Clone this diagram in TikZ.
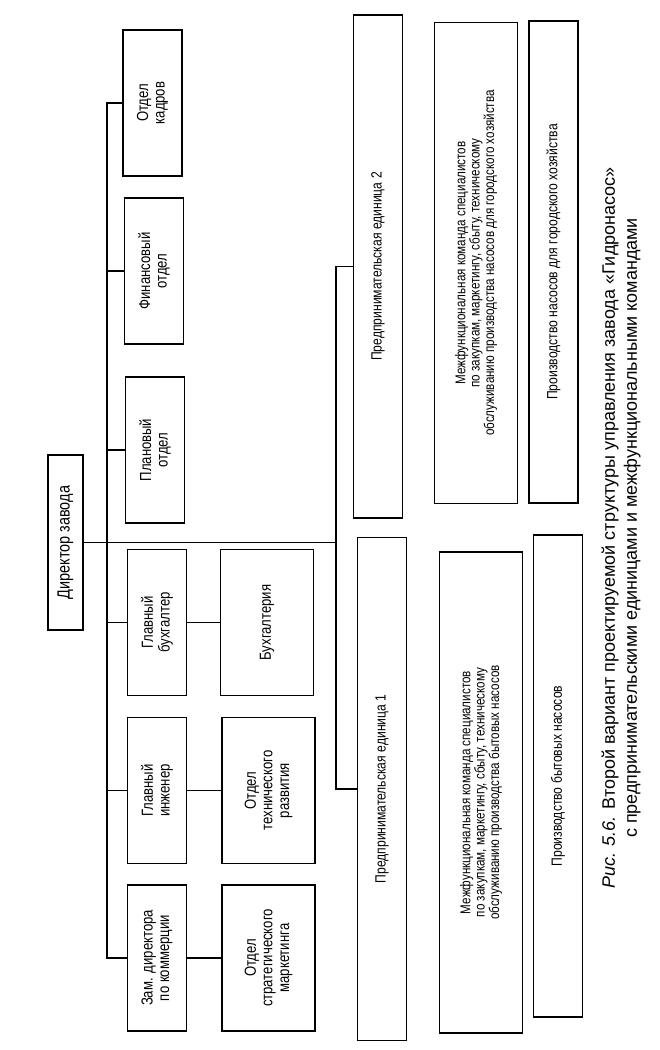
\documentclass[tikz,border=0pt]{standalone}
\usepackage{fontspec}
\setmainfont{Liberation Sans}
\newfontfamily\narrowfont[FakeStretch=0.82]{Liberation Sans}
\begin{document}
\begin{tikzpicture}[x=0.5pt,y=-0.5pt,
  box/.style={draw, line width=0.8pt, rotate=90, inner sep=1pt, align=center,
    font=\narrowfont\fontsize{8}{8.3}\selectfont},
  colA/.style={box, minimum width=73pt, minimum height=29.5pt},
  colB/.style={box, minimum width=73pt, minimum height=46.5pt},
  unitbox/.style={box, minimum width=251.5pt, minimum height=24.5pt,
    font=\narrowfont\fontsize{7.4}{8}\selectfont},
  teambox/.style={box, minimum width=240.5pt, minimum height=41.5pt,
    font=\narrowfont\fontsize{7.1}{7.2}\selectfont},
  prodbox/.style={box, minimum width=241pt, minimum height=24.5pt,
    font=\narrowfont\fontsize{7.4}{8}\selectfont},
  link/.style={line width=0.7pt}]
\useasboundingbox (0,0) rectangle (659,1050);
% director
\node[box, minimum width=87.5pt, minimum height=17.5pt,
  font=\narrowfont\fontsize{8.8}{9}\selectfont] (dir) at (65.5,542.5) {Директор завода};
% first column
\node[colA] (zam)  at (157,958)   {Зам. директора\\по коммерции};
\node[colA] (gi)   at (157,790.5) {Главный\\инженер};
\node[colA] (gb)   at (157,622.5) {Главный\\бухгалтер};
\node[colA] (plan) at (155,450)   {Плановый\\отдел};
\node[colA] (fin)  at (154,271)   {Финансовый\\отдел};
\node[colA] (kadr) at (152.5,103) {Отдел\\кадров};
% second column
\node[colB] (osm) at (268.5,958)   {Отдел\\стратегического\\маркетинга};
\node[colB] (otr) at (268.5,790.5) {Отдел\\технического\\развития};
\node[colB] (buh) at (267,622.5)   {Бухгалтерия};
% entrepreneurial units
\node[unitbox] (pe1) at (382,789) {Предпринимательская единица 1};
\node[unitbox] (pe2) at (378,266.5) {Предпринимательская единица 2};
\node[teambox] (m1) at (481,792.5) {Межфункциональная команда специалистов\\по закупкам, маркетингу, сбыту, техническому\\обслуживанию производства бытовых насосов};
\node[teambox] (m2) at (476,263) {Межфункциональная команда специалистов\\по закупкам, маркетингу, сбыту, техническому\\обслуживанию производства насосов для городского хозяйства};
\node[prodbox] (p1) at (558,776) {Производство бытовых насосов};
\node[prodbox] (p2) at (553.5,262) {Производство насосов для городского хозяйства};
% caption
\node[rotate=90, align=center, font=\fontsize{9}{11}\selectfont] (cap) at (621,528)
  {\textit{Рис. 5.6.} Второй вариант проектируемой структуры управления завода «Гидронасос»\\с предпринимательскими единицами и межфункциональными командами};
% connectors
\coordinate (bus) at (107,0);
\coordinate (pbus) at (336,0);
\draw[link] (kadr.north) -- (kadr.north -| bus) -- (zam.north -| bus) -- (zam.north);
\foreach \n in {gi,gb,plan,fin} \draw[link] (\n.north) -- (\n.north -| bus);
\draw[link] (zam.south) -- (osm.north);
\draw[link] (gi.south) -- (otr.north);
\draw[link] (gb.south) -- (buh.north);
\draw[link] (dir.south) -- (dir.south -| pbus);
\draw[link] (pe1.north) -- (pe1.north -| pbus) -- (pe2.north -| pbus) -- (pe2.north);
\end{tikzpicture}
\end{document}
